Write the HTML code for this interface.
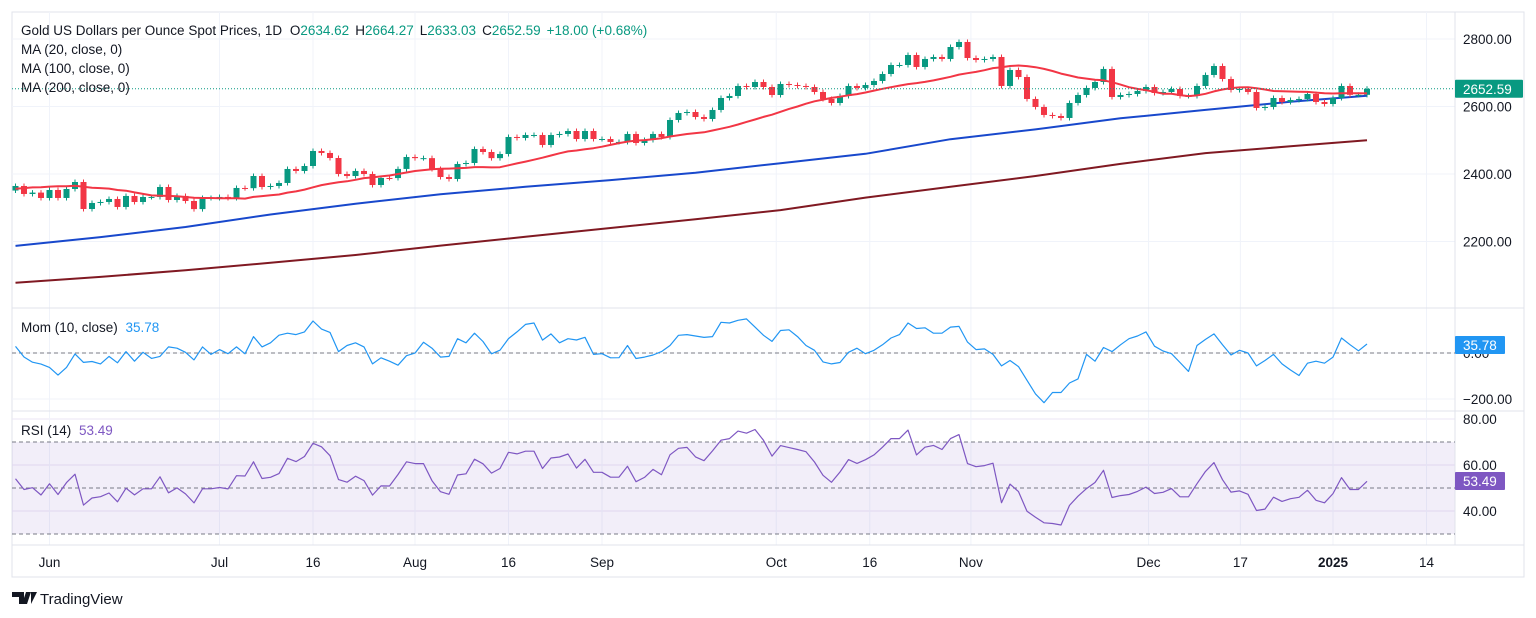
<!DOCTYPE html>
<html><head><meta charset="utf-8"><style>
html,body{margin:0;padding:0;background:#fff;}
svg{display:block;font-family:"Liberation Sans",sans-serif;}
</style></head><body>
<svg id="chart" width="1536" height="618" viewBox="0 0 1536 618">
  <rect x="0" y="0" width="1536" height="618" fill="#ffffff"/>
  <rect x="12" y="12" width="1512" height="565" fill="none" stroke="#e0e3eb" stroke-width="1"/>
  <g id="grid"></g>
  <rect x="12" y="442" width="1443" height="92" fill="rgba(126,87,194,0.1)"/>
  <line x1="12" y1="308" x2="1524" y2="308" stroke="#e0e3eb"/>
  <line x1="12" y1="411" x2="1524" y2="411" stroke="#e0e3eb"/>
  <line x1="12" y1="545" x2="1524" y2="545" stroke="#e0e3eb"/>
  <line x1="1455" y1="12" x2="1455" y2="545" stroke="#e0e3eb"/>
  <line x1="12" y1="353" x2="1455" y2="353" stroke="#787b86" stroke-dasharray="4,3"/>
  <line x1="12" y1="442" x2="1455" y2="442" stroke="#787b86" stroke-dasharray="4,3"/>
  <line x1="12" y1="488" x2="1455" y2="488" stroke="#787b86" stroke-dasharray="4,3"/>
  <line x1="12" y1="534" x2="1455" y2="534" stroke="#787b86" stroke-dasharray="4,3"/>
  <g id="series"></g>
  <g id="labels"></g>
  <text x="21" y="35" font-size="13.5" fill="#131722">Gold US Dollars per Ounce Spot Prices, 1D <tspan dx="4">O</tspan><tspan fill="#089981">2634.62</tspan><tspan dx="6">H</tspan><tspan fill="#089981">2664.27</tspan><tspan dx="6">L</tspan><tspan fill="#089981">2633.03</tspan><tspan dx="6">C</tspan><tspan fill="#089981">2652.59</tspan><tspan dx="6" fill="#089981">+18.00 (+0.68%)</tspan></text>
  <text x="21" y="54" font-size="13.5" fill="#131722">MA (20, close, 0)</text>
  <text x="21" y="73" font-size="13.5" fill="#131722">MA (100, close, 0)</text>
  <text x="21" y="92" font-size="13.5" fill="#131722">MA (200, close, 0)</text>
  <text x="21" y="332" font-size="13.5" fill="#131722">Mom (10, close) <tspan dx="4" fill="#2196f3">35.78</tspan></text>
  <text x="21" y="435" font-size="13.5" fill="#131722">RSI (14) <tspan dx="4" fill="#7e57c2">53.49</tspan></text>
  <g>
    <path d="M12 592h12v12h-5v-7h-7z M26 592h5l-4 12h-5z M31 592h6l-6 12z" fill="#131722"/>
    <text x="40" y="604" font-size="15" fill="#131722">TradingView</text>
  </g>
</svg>
<script>
const histCloses = [2320,2303,2301,2323,2314,2312,2346,2346,2360,2375,2336,2358,2385,2377,2415,2425,2418,2380,2337,2351];
const closes = [
2364.5,2340.8,2344.9,2328.9,2352.6,2329,2355.6,2376.3,2296.3,2314.1,2317.1,2326,2302.3,2334.9,2317,2331.9,2332,2361.5,2323,2335,2320,2296,2329,2329,2332,2329,2358.6,2358,2394.1,2361.5,2364.5,2373.4,
2414.9,2408.9,2423.7,2468.2,2462.3,2447.4,2400,2394,2409,2400,2367.4,2388.2,2388,2415,2450.4,2447,2447,2415,2391.1,2385.2,2429.7,2432.6,2474.1,2465.2,2447,2459.3,2509.7,2506.7,2515.6,2515.6,2486,2515.6,2518.6,
2527.4,2503.7,2527.4,2503.7,2503.7,2494.9,2495,2518.6,2491.9,2500.8,2518.6,2509.7,2560,2580.8,2583.7,2568.9,2563,2589.7,2625.2,2631.2,2660.8,2657.8,2672.6,2657.8,2634.1,2666.7,2663.7,2660.8,2657.8,2643,2622.3,2610.4,
2631.2,2660.8,2654.9,2663.7,2675.6,2696.3,2723,2723,2752.6,2717.1,2740.8,2746.7,2740.8,2776.3,2791.2,
2743.7,2737.8,2740.8,2746.7,2660.8,2708.2,2687.4,2622.3,2598.6,2574.9,2571.9,2566,2610.4,2634.1,2654.9,2672.6,2711.2,2628.2,2634.1,2637.1,2646,2657.8,2640,2643,2651.9,2631.2,2631.2,2660.8,2693.4,2720,2681.5,2648.9,2651.9,2643,2595.6,2598.6,2625.2,2613.4,2619.3,2622.3,2637.1,2613.4,2607.4,2625.2,2660.8,2634.6,2634.6,2652.59];
const ma100Idx = [0,10,20,30,40,50,60,70,80,90,100,110,120,130,140,150,159];
const ma100Vals = [2187,2213,2243,2280,2312,2340,2362,2382,2404,2432,2460,2503,2532,2565,2590,2614,2632];
const ma200Vals = [2078,2095,2115,2137,2160,2188,2214,2240,2266,2293,2330,2362,2394,2430,2462,2482,2500];
const priceTicks = [2800,2600,2400,2200];
const momTicks = [0,-200];
const rsiTicks = [80,60,40];
const timeLabels = ["Jun","Jul","16","Aug","16","Sep","Oct","16","Nov","Dec","17","2025","14"];
const timeIdx = [4,24,35,47,58,69,89.5,100.5,112.4,133.3,144.1,155,166];

const NS="http://www.w3.org/2000/svg";
const X0=15.5, DX=8.5;
function xAt(i){return X0+i*DX;}
function yP(p){return 39+(2800-p)*0.3375;}
function yM(m){return 353-m*0.23;}
function yR(r){return 488-(r-50)*2.3;}
function mk(tag,attrs,parent){const e=document.createElementNS(NS,tag);for(const k in attrs)e.setAttribute(k,attrs[k]);parent.appendChild(e);return e;}
const grid=document.getElementById('grid'), series=document.getElementById('series'), labels=document.getElementById('labels');

priceTicks.forEach(t=>{
  const l=mk('line',{x1:12,x2:1455,y1:yP(t),y2:yP(t),stroke:'#f0f3fa'},grid);
  
  
  const tx=mk('text',{x:1463,y:yP(t)+5,'font-size':13.5,fill:'#131722'},labels);
  tx.textContent=t.toFixed(2);
  
  
});
momTicks.forEach(t=>{
  const l=mk('line',{x1:12,x2:1455,y1:yM(t),y2:yM(t),stroke:'#f0f3fa'},grid);
  
  
  const tx=mk('text',{x:1463,y:yM(t)+5,'font-size':13.5,fill:'#131722'},labels);
  tx.textContent=(t<0?'\u2212'+Math.abs(t).toFixed(2):t.toFixed(2));
  
  
});
rsiTicks.forEach(t=>{
  const l=mk('line',{x1:12,x2:1455,y1:yR(t),y2:yR(t),stroke:'#ebe6f5'},grid);
  
  
  const tx=mk('text',{x:1463,y:yR(t)+5,'font-size':13.5,fill:'#131722'},labels);
  tx.textContent=t.toFixed(2);
  
  
});
timeLabels.forEach((lab,k)=>{
  const x=xAt(timeIdx[k]);
  const l=mk('line',{x1:x,x2:x,y1:12,y2:545,stroke:'#f0f3fa'},grid);
  
  
  const tx=mk('text',{x:x,y:567,'font-size':13.5,fill:'#131722','text-anchor':'middle','font-weight':lab==='2025'?'bold':'normal'},labels);
  tx.textContent=lab;
  
  
});

const all=histCloses.concat(closes), OFF=histCloses.length, N=closes.length;
function poly(pts,color,w,name){
  const p=mk('polyline',{points:pts.map(q=>q[0].toFixed(1)+','+q[1].toFixed(1)).join(' '),fill:'none',stroke:color,'stroke-width':w,'stroke-linejoin':'round'},series);
  
  
}
poly(ma200Vals.map((v,k)=>[xAt(ma100Idx[k]),yP(v)]),'#801922',2,'ma200-line');
poly(ma100Vals.map((v,k)=>[xAt(ma100Idx[k]),yP(v)]),'#1848cc',2,'ma100-line');
const ma20=[];
for(let i=0;i<N;i++){let s=0;for(let j=0;j<20;j++)s+=all[OFF+i-j];ma20.push(s/20);}
for(let i=0;i<N;i++){
  const o=all[OFF+i-1], c=all[OFF+i], x=xAt(i);
  const up=c>=o, col=up?'#089981':'#f23645';
  const yt=yP(Math.max(o,c)), yb=yP(Math.min(o,c));
  const g=mk('g',{},series);
  
  
  mk('line',{x1:x,x2:x,y1:yt-2.5,y2:yb+2.5,stroke:col,'stroke-width':1},g);
  mk('rect',{x:x-3,y:yt,width:6,height:Math.max(1,yb-yt),fill:col},g);
}
poly(ma20.map((v,i)=>[xAt(i),yP(v)]),'#f23645',2,'ma20-line');
const lp=closes[N-1];
const dl=mk('line',{x1:12,x2:1455,y1:yP(lp),y2:yP(lp),stroke:'#089981','stroke-dasharray':'1,2'},series);


const pb=mk('rect',{x:1455,y:yP(lp)-9,width:68,height:18,fill:'#089981',rx:1},labels);


const pt=mk('text',{x:1463,y:yP(lp)+5,'font-size':13.5,fill:'#fff'},labels);
pt.textContent=lp.toFixed(2);


const mom=[];
for(let i=0;i<N;i++)mom.push(all[OFF+i]-all[OFF+i-10]);
poly(mom.map((v,i)=>[xAt(i),yM(v)]),'#2196f3',1.2,'momentum-line');
const mb=mk('rect',{x:1455,y:336,width:50,height:18,fill:'#2196f3',rx:1},labels);


const mt=mk('text',{x:1463,y:350,'font-size':13.5,fill:'#fff'},labels);
mt.textContent='35.78';


let ag=0,al=0;
for(let k=1;k<=14;k++){const d=all[k]-all[k-1];if(d>0)ag+=d;else al-=d;}
ag/=14;al/=14;
const rsiAll=[];
for(let k=15;k<all.length;k++){const d=all[k]-all[k-1];ag=(ag*13+Math.max(d,0))/14;al=(al*13+Math.max(-d,0))/14;rsiAll[k]=al===0?100:100-100/(1+ag/al);}
const rsi=[];for(let i=0;i<N;i++)rsi.push(rsiAll[OFF+i]);
poly(rsi.map((v,i)=>[xAt(i),yR(v)]),'#7e57c2',1.2,'rsi-line');
const rb=mk('rect',{x:1455,y:472,width:50,height:18,fill:'#7e57c2',rx:1},labels);


const rt=mk('text',{x:1463,y:486,'font-size':13.5,fill:'#fff'},labels);
rt.textContent='53.49';


</script>
</body></html>
